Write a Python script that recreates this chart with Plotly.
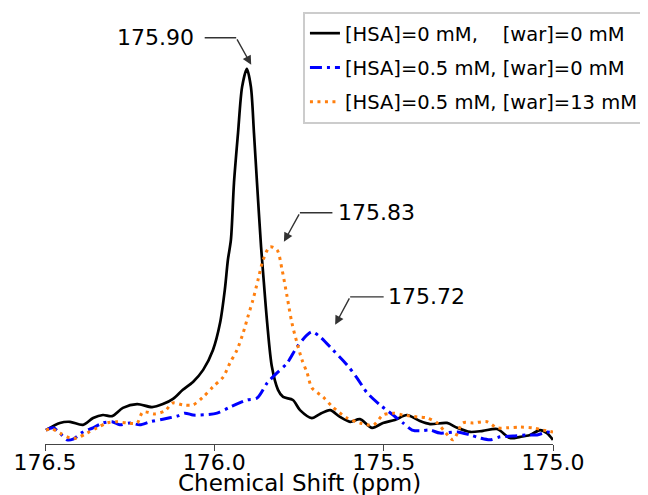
import plotly.graph_objects as go

# ---- data (ppm, intensity a.u.) ----
black_ppm = [176.497, 176.456, 176.426, 176.388, 176.358, 176.329, 176.302, 176.270, 176.228, 176.184,
             176.152, 176.122, 176.093, 176.063, 176.033, 176.004, 175.983, 175.969, 175.960, 175.951,
             175.942, 175.930, 175.918, 175.904, 175.892, 175.883, 175.874, 175.862, 175.856, 175.844,
             175.830, 175.812, 175.797, 175.768, 175.747, 175.712, 175.688, 175.658, 175.629, 175.599,
             175.570, 175.534, 175.502, 175.467, 175.431, 175.393, 175.363, 175.313, 175.283, 175.245,
             175.207, 175.165, 175.127, 175.097, 175.068, 175.038, 175.018, 175.000]
black_int = [3.7, 5.6, 5.9, 5.1, 6.9, 7.7, 7.4, 9.6, 10.6, 9.8,
             10.6, 12.0, 14.4, 16.5, 19.7, 25.0, 32.2, 41.0, 48.9, 54.3,
             69.4, 82.7, 94.9, 99.7, 94.9, 82.7, 69.4, 52.4, 45.5, 32.2,
             20.5, 14.4, 12.5, 11.7, 9.0, 6.9, 8.0, 9.0, 7.2, 5.9,
             6.6, 4.3, 5.6, 6.4, 7.7, 6.1, 5.3, 5.6, 4.3, 3.2,
             3.5, 4.0, 1.6, 1.9, 2.4, 3.7, 2.9, 1.1]

blue_ppm = [176.497, 176.476, 176.456, 176.435, 176.417, 176.388, 176.358, 176.329, 176.302, 176.279,
            176.249, 176.220, 176.190, 176.152, 176.110, 176.087, 176.063, 176.042, 175.992, 175.954,
            175.904, 175.874, 175.844, 175.815, 175.785, 175.756, 175.726, 175.712, 175.688, 175.650,
            175.608, 175.579, 175.549, 175.511, 175.472, 175.443, 175.416, 175.393, 175.363, 175.334,
            175.283, 175.245, 175.216, 175.186, 175.156, 175.118, 175.077, 175.047, 175.018, 175.000]
blue_int = [3.7, 4.3, 2.9, 1.1, 1.3, 3.2, 4.3, 5.6, 5.9, 5.1,
            5.6, 5.1, 5.9, 6.6, 7.4, 8.2, 7.7, 7.7, 8.2, 9.8,
            11.7, 12.2, 16.2, 18.9, 21.5, 25.8, 29.0, 29.8, 28.5, 25.0,
            21.0, 17.6, 13.6, 10.4, 7.7, 5.6, 3.7, 3.5, 3.7, 2.9,
            3.2, 2.4, 1.6, 1.1, 1.9, 2.1, 2.4, 2.4, 3.2, 2.9]

orange_ppm = [176.497, 176.479, 176.456, 176.426, 176.406, 176.376, 176.346, 176.317, 176.287, 176.258,
              176.228, 176.211, 176.175, 176.146, 176.122, 176.093, 176.063, 176.033, 176.004, 175.974,
              175.954, 175.933, 175.915, 175.901, 175.886, 175.871, 175.856, 175.836, 175.815, 175.800,
              175.785, 175.771, 175.756, 175.741, 175.726, 175.712, 175.679, 175.650, 175.608, 175.570,
              175.531, 175.502, 175.472, 175.443, 175.401, 175.372, 175.342, 175.319, 175.295, 175.266,
              175.236, 175.195, 175.165, 175.136, 175.097, 175.059, 175.029, 175.000]
orange_int = [3.7, 4.0, 2.9, 1.6, 1.6, 2.9, 4.3, 5.6, 5.9, 5.6,
              5.6, 8.5, 8.0, 8.8, 10.9, 10.4, 10.4, 12.5, 15.2, 17.8,
              21.5, 25.0, 29.5, 33.8, 38.3, 43.6, 48.9, 52.4, 51.6, 46.3,
              39.1, 32.2, 26.9, 22.3, 18.9, 14.9, 12.5, 9.8, 6.9, 5.6,
              5.0, 7.7, 8.2, 7.7, 7.2, 6.9, 5.6, 3.2, 1.1, 5.6,
              5.6, 5.9, 4.3, 4.3, 4.5, 4.3, 3.7, 3.2]

series_names = ["[HSA]=0 mM,\u00a0\u00a0\u00a0\u00a0[war]=0 mM",
                "[HSA]=0.5 mM, [war]=0 mM",
                "[HSA]=0.5 mM, [war]=13 mM"]
peak_labels = ["175.90", "175.72", "175.83"]
tick_vals = [176.5, 176.0, 175.5, 175.0]
tick_text = ["176.5", "176.0", "175.5", "175.0"]
x_title = "Chemical Shift (ppm)"

FONT = "DejaVu Sans"

fig = go.Figure()
fig.add_trace(go.Scatter(x=black_ppm, y=black_int, mode="lines", name=series_names[0],
                         line=dict(color="black", width=2.7, shape="spline", smoothing=0.8),
                         legendgroup="a"))
fig.add_trace(go.Scatter(x=blue_ppm, y=blue_int, mode="lines", name=series_names[1],
                         line=dict(color="#0000ff", width=3, dash="12px,5px,3px,5px",
                                   shape="spline", smoothing=0.8),
                         legendgroup="b"))
fig.add_trace(go.Scatter(x=orange_ppm, y=orange_int, mode="lines", name=series_names[2],
                         line=dict(color="#ff7f0e", width=3, dash="3px,4.5px",
                                   shape="spline", smoothing=0.8),
                         legendgroup="c"))

# annotation geometry (pixel offsets): head shift, elbow rel head, text rel elbow, pad
ann_style = [
    dict(hs=(3, 4), el=(-15, -27), tx=-80.5, pad=10),   # black
    dict(hs=(26, 7), el=(15, -28), tx=76.5, pad=4),     # blue
    dict(hs=(12, 5), el=(16, -29), tx=76.5, pad=5),     # orange
]
peak_y = [max(black_int), max(blue_int), max(orange_int)]
annotations = []
for lab, py, st in zip(peak_labels, peak_y, ann_style):
    px = float(lab)
    hx, hy = st["hs"]
    ex, ey = st["el"]
    annotations.append(dict(x=px, y=py, xref="x", yref="y", text="", showarrow=True,
                            xshift=hx, yshift=hy, ax=ex, ay=ey, arrowhead=2, arrowsize=1.3,
                            arrowwidth=1.4, arrowcolor="#333", standoff=0, startstandoff=0))
    annotations.append(dict(x=px, y=py, xref="x", yref="y", text=lab, showarrow=True,
                            xshift=hx + ex, yshift=hy - ey, ax=st["tx"], ay=0, arrowhead=0,
                            arrowwidth=1.4, arrowcolor="#333", borderpad=st["pad"],
                            font=dict(family=FONT, size=22, color="black")))

# x-axis title as a paper-anchored text
annotations.append(dict(x=0.5, y=-0.091, xref="paper", yref="paper", text=x_title,
                        showarrow=False, xanchor="center", yanchor="middle",
                        font=dict(family=FONT, size=23, color="black")))

# page body has an 8px margin, so margins are offset to compensate
fig.update_layout(
    width=648, height=495,
    margin=dict(l=37, r=103, t=7, b=59, autoexpand=False),
    paper_bgcolor="white", plot_bgcolor="white",
    font=dict(family=FONT, color="black"),
    showlegend=True,
    legend=dict(x=1.181, y=1.007, xanchor="right", yanchor="top",
                bgcolor="white", bordercolor="#cccccc", borderwidth=2,
                font=dict(family=FONT, size=19.5, color="black"),
                tracegroupgap=6, traceorder="grouped"),
    xaxis=dict(range=[176.5, 175.0], tickvals=tick_vals, ticktext=tick_text,
               ticks="outside", ticklen=6, tickwidth=1.4, tickcolor="#444",
               showline=True, linewidth=1.4, linecolor="#444",
               showgrid=False, zeroline=False, automargin=False,
               ticklabelstandoff=-8,
               tickfont=dict(family=FONT, size=22, color="black")),
    yaxis=dict(range=[0, 114], visible=False),
    annotations=annotations,
)

fig.write_html("out.html")
